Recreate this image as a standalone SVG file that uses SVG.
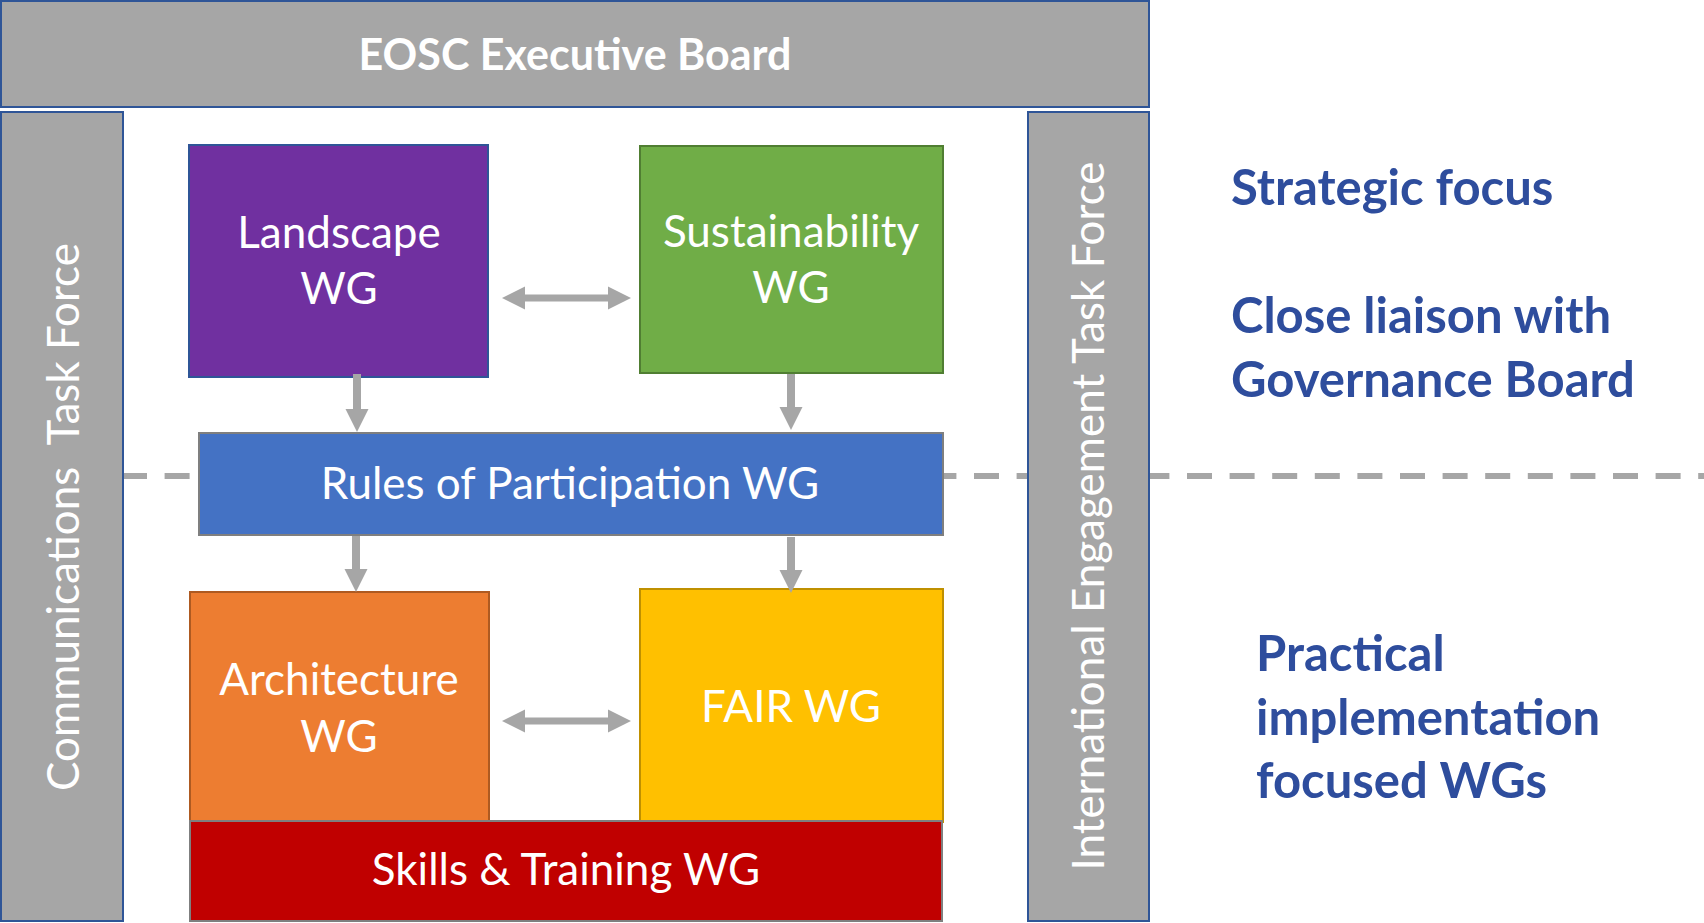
<svg xmlns="http://www.w3.org/2000/svg" width="1704" height="923" viewBox="0 0 1704 923">
<style>
.bar{fill:#a6a6a6;stroke:#2f5597;stroke-width:2}
.lbl{font-family:Lato,"Open Sans","Liberation Sans",sans-serif;fill:#ffffff;font-size:44px;font-weight:400;text-anchor:middle}
.bold{font-family:Lato,"Open Sans","Liberation Sans",sans-serif;font-weight:700}
.side{font-family:Lato,"Open Sans","Liberation Sans",sans-serif;fill:#2e4d9d;font-size:49px;font-weight:700}
.arr{fill:#a6a6a6}
</style>
<rect width="1704" height="923" fill="#ffffff"/>
<line x1="122" y1="476" x2="1704" y2="476" stroke="#a6a6a6" stroke-width="6" stroke-dasharray="25 17.6"/>
<g id="exec-board">
<rect class="bar" x="1" y="1" width="1148" height="106"/>
<text class="bold" x="575" y="70" font-size="43" fill="#ffffff" text-anchor="middle">EOSC Executive Board</text>
</g>
<g id="comms-tf">
<rect class="bar" x="1" y="112" width="122" height="809"/>
<text class="lbl" transform="translate(79,517) rotate(-90)" xml:space="preserve">Communications  Task Force</text>
</g>
<g id="intl-tf">
<rect class="bar" x="1028" y="112" width="121" height="809"/>
<text class="lbl" transform="translate(1104,516) rotate(-90)" font-size="46">International Engagement Task Force</text>
</g>
<g id="landscape">
<rect x="189" y="145" width="299" height="232" fill="#7030a0" stroke="#2f5597" stroke-width="2"/>
<text class="lbl" x="339" y="248">Landscape</text>
<text class="lbl" x="339" y="304">WG</text>
</g>
<g id="sustainability">
<rect x="640" y="146" width="303" height="227" fill="#70ad47" stroke="#507e32" stroke-width="2"/>
<text class="lbl" x="791" y="247">Sustainability</text>
<text class="lbl" x="791" y="303">WG</text>
</g>
<g id="rules">
<rect x="199" y="433" width="744" height="102" fill="#4472c4" stroke="#7f7f7f" stroke-width="2"/>
<text class="lbl" x="570" y="499">Rules of Participation WG</text>
</g>
<g id="architecture">
<rect x="190" y="592" width="299" height="230" fill="#ed7d31" stroke="#ae5a21" stroke-width="2"/>
<text class="lbl" x="339" y="695">Architecture</text>
<text class="lbl" x="339" y="752">WG</text>
</g>
<g id="fair">
<rect x="640" y="589" width="303" height="233" fill="#ffc000" stroke="#bf9000" stroke-width="2"/>
<text class="lbl" x="791" y="722">FAIR WG</text>
</g>
<g id="skills">
<rect x="190" y="821" width="752" height="100" fill="#c00000" stroke="#7f7f7f" stroke-width="2"/>
<text class="lbl" x="566" y="885">Skills &amp; Training WG</text>
</g>
<g id="connectors">
<polygon class="arr" points="502,298 525,286.5 525,294.5 608,294.5 608,286.5 631,298 608,309.5 608,301.5 525,301.5 525,309.5"/>
<polygon class="arr" points="502,721 525,709.5 525,717.5 608,717.5 608,709.5 631,721 608,732.5 608,724.5 525,724.5 525,732.5"/>
<polygon class="arr" points="353,374 361,374 361,409 368.5,409 357,432 345.5,409 353,409"/>
<polygon class="arr" points="787,374 795,374 795,407 802.5,407 791,430 779.5,407 787,407"/>
<polygon class="arr" points="352,536 360,536 360,569 367.5,569 356,592 344.5,569 352,569"/>
<polygon class="arr" points="787,537 795,537 795,570 802.5,570 791,593 779.5,570 787,570"/>
</g>
<g id="notes">
<text class="side" x="1231" y="205">Strategic focus</text>
<text class="side" x="1231" y="333">Close liaison with</text>
<text class="side" x="1231" y="397">Governance Board</text>
<text class="side" x="1256" y="671" font-size="51">Practical</text>
<text class="side" x="1256" y="735" font-size="51">implementation</text>
<text class="side" x="1256" y="798" font-size="51">focused WGs</text>
</g>
</svg>
